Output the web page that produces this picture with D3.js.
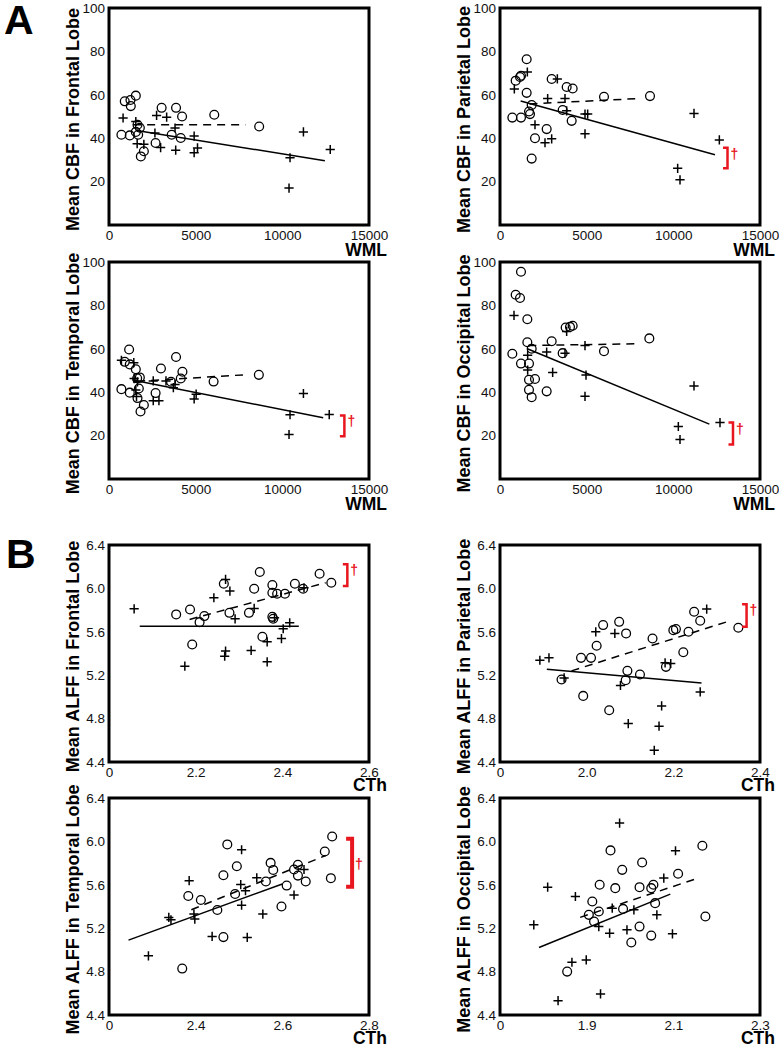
<!DOCTYPE html>
<html><head><meta charset="utf-8">
<script src="https://cdn.jsdelivr.net/npm/d3@7/dist/d3.min.js"></script>
<style>body{margin:0;background:#fff}svg{display:block}text{font-family:Arial,"Liberation Sans",sans-serif}</style>
</head><body>
<script>
// ---------- DATA ----------
const cbfXTicks = [0, 5000, 10000, 15000];
const cbfYTicks = [20, 40, 60, 80, 100];
const alffYTicks = [4.4, 4.8, 5.2, 5.6, 6.0, 6.4];

// Panel A1: Frontal CBF vs WML
const a1Circles = [[716,41.6],[909,57.0],[1238,57.6],[1257,54.8],[1547,59.6],[1199,41.3],[1644,46.2],[1779,44.8],[1547,42.9],[1683,41.6],[1837,31.6],[2011,34.0],[2688,37.8],[3036,54.0],[3616,41.6],[3868,54.0],[4139,40.1],[4216,50.0],[6073,50.8],[8664,45.4]];
const a1Plus = [[812,49.3],[1547,47.7],[1625,37.5],[2011,37.2],[2650,42.4],[2746,50.5],[2978,35.7],[3326,49.7],[3810,44.7],[3848,34.5],[4912,41.0],[4912,33.3],[5106,35.5],[10444,31.0],[10386,17.0],[11217,42.9],[12764,34.8]];
const a1FitPlus = [[1586,43.6],[12455,29.6]];
const a1FitCircles = [[1392,46.2],[7871,46.2]];

// Panel A2: Parietal CBF vs WML
const a2Circles = [[711,49.5],[904,66.5],[1154,68.2],[1211,68.8],[1211,49.5],[1538,76.4],[1538,60.9],[1673,52.3],[1731,51.1],[1827,55.3],[1827,30.6],[2019,40.0],[2692,44.2],[2981,67.3],[3615,53.0],[3846,63.6],[4192,62.9],[4135,48.0],[6000,59.1],[8654,59.4]];
const a2Plus = [[827,62.7],[1577,70.5],[2019,46.2],[2596,37.9],[2750,58.3],[2981,39.7],[3308,67.3],[3750,58.3],[3846,52.6],[4904,51.1],[5058,51.1],[4904,42.0],[10250,26.1],[10385,20.8],[11192,51.4],[12654,39.2]];
const a2FitPlus = [[1192,57.1],[12404,32.4]];
const a2FitCircles = [[1700,55.8],[7800,58.2]];

// Panel A3: Temporal CBF vs WML
const a3Circles = [[716,41.4],[909,54.0],[1160,59.7],[1199,52.8],[1199,39.8],[1547,50.6],[1625,46.4],[1779,46.8],[1721,41.7],[1644,37.3],[1818,31.1],[2011,34.1],[2688,39.6],[2997,50.9],[3578,44.8],[3868,56.2],[4139,46.3],[4236,49.4],[6034,44.9],[8645,48.0]];
const a3Plus = [[716,54.7],[1431,53.6],[1451,46.3],[1644,44.8],[1586,38.0],[1547,41.0],[2553,45.2],[2553,36.1],[2881,36.1],[3288,45.2],[3713,42.1],[3810,43.6],[4912,36.9],[5029,39.1],[10444,29.6],[10386,20.5],[11217,39.4],[12706,29.7]];
const a3FitPlus = [[1354,45.6],[12358,28.2]];
const a3FitCircles = [[1625,45.0],[7775,48.0]];

// Panel A4: Occipital CBF vs WML
const a4Circles = [[711,57.7],[904,84.9],[1154,83.4],[1211,95.5],[1211,53.2],[1577,73.6],[1577,63.0],[1673,53.2],[1673,45.7],[1673,41.1],[1827,60.0],[1827,37.7],[2019,46.1],[2692,40.4],[2981,63.5],[3615,58.0],[3788,69.8],[4038,70.1],[4192,70.6],[6000,58.9],[8615,64.8]];
const a4Plus = [[808,75.4],[1596,57.0],[1596,50.2],[2692,58.5],[3038,49.1],[3750,58.0],[3846,68.0],[4904,61.5],[4962,47.9],[4904,38.1],[10288,24.2],[10385,18.2],[11192,42.9],[12692,26.0]];
const a4FitPlus = [[1577,60.0],[12077,25.3]];
const a4FitCircles = [[1635,61.5],[7788,62.3]];

// Panel B1: Frontal ALFF vs CTh
const b1XTicks = [2.0, 2.2, 2.4, 2.6];
const b1XLabels = ["0", "2.2", "2.4", "2.6"];
const b1Circles = [[2.155,5.76],[2.187,5.806],[2.192,5.483],[2.209,5.689],[2.220,5.745],[2.265,6.043],[2.278,5.775],[2.335,5.997],[2.323,5.775],[2.348,6.151],[2.354,5.554],[2.377,6.031],[2.377,5.960],[2.377,5.738],[2.379,5.72],[2.388,5.951],[2.406,5.951],[2.429,6.043],[2.448,5.997],[2.486,6.135],[2.513,6.052]];
const b1Plus = [[2.058,5.812],[2.175,5.283],[2.242,5.914],[2.269,6.083],[2.279,5.975],[2.269,5.422],[2.267,5.375],[2.291,5.72],[2.328,5.428],[2.335,5.815],[2.365,5.508],[2.365,5.323],[2.382,5.729],[2.398,5.538],[2.402,5.628],[2.417,5.683],[2.45,6.006]];
const b1FitPlus = [[2.071,5.652],[2.438,5.652]];
const b1FitCircles = [[2.186,5.714],[2.5,6.052]];

// Panel B2: Parietal ALFF vs CTh
const b2XTicks = [1.8, 2.0, 2.2, 2.4];
const b2XLabels = ["0", "2.0", "2.2", "2.4"];
const b2Circles = [[1.942,5.16],[1.987,5.36],[1.992,5.009],[2.010,5.36],[2.023,5.471],[2.038,5.662],[2.075,5.692],[2.052,4.877],[2.091,5.585],[2.094,5.24],[2.09,5.154],[2.123,5.206],[2.152,5.538],[2.183,5.277],[2.2,5.615],[2.206,5.625],[2.223,5.412],[2.235,5.6],[2.248,5.785],[2.262,5.702],[2.35,5.637]];
const b2Plus = [[1.892,5.338],[1.913,5.36],[1.948,5.175],[2.021,5.6],[2.065,5.585],[2.078,5.105],[2.096,4.754],[2.173,4.917],[2.167,4.73],[2.156,4.508],[2.181,5.314],[2.194,5.308],[2.262,5.046],[2.277,5.809]];
const b2FitPlus = [[1.908,5.255],[2.265,5.129]];
const b2FitCircles = [[1.965,5.24],[2.33,5.70]];

// Panel B3: Temporal ALFF vs CTh
const b3XTicks = [2.2, 2.4, 2.6, 2.8];
const b3XLabels = ["0", "2.4", "2.6", "2.8"];
const b3Circles = [[2.369,4.828],[2.383,5.497],[2.412,5.46],[2.45,5.368],[2.464,5.688],[2.464,5.118],[2.473,5.972],[2.491,5.515],[2.495,5.771],[2.562,5.63],[2.573,5.802],[2.579,5.737],[2.598,5.4],[2.61,5.593],[2.627,5.741],[2.636,5.784],[2.636,5.685],[2.654,5.63],[2.698,5.907],[2.712,5.661],[2.715,6.045]];
const b3Plus = [[2.291,4.945],[2.338,5.299],[2.343,5.278],[2.385,5.638],[2.396,5.33],[2.398,5.284],[2.438,5.124],[2.506,5.923],[2.504,5.602],[2.506,5.412],[2.515,5.545],[2.519,5.115],[2.541,5.664],[2.555,5.33],[2.627,5.506],[2.65,5.741]];
const b3FitPlus = [[2.245,5.09],[2.6,5.608]];
const b3FitCircles = [[2.39,5.37],[2.70,5.87]];

// Panel B4: Occipital ALFF vs CTh
const b4XTicks = [1.7, 1.9, 2.1, 2.3];
const b4XLabels = ["0", "1.9", "2.1", "2.3"];
const b4Circles = [[1.855,4.8],[1.905,5.323],[1.913,5.446],[1.917,5.262],[1.928,5.354],[1.93,5.6],[1.955,5.917],[1.966,5.569],[1.982,5.738],[1.984,5.378],[2.003,5.068],[2.022,5.215],[2.022,5.578],[2.028,5.806],[2.049,5.132],[2.049,5.569],[2.054,5.6],[2.058,5.431],[2.111,5.702],[2.167,5.96],[2.174,5.308]];
const b4Plus = [[1.778,5.231],[1.81,5.578],[1.834,4.532],[1.866,4.886],[1.874,5.492],[1.899,4.908],[1.928,5.215],[1.932,4.594],[1.953,5.154],[1.959,5.385],[1.976,6.169],[1.993,5.185],[2.009,5.369],[2.062,5.323],[2.078,5.662],[2.098,5.148],[2.105,5.914]];
const b4FitPlus = [[1.79,5.022],[2.093,5.514]];
const b4FitCircles = [[1.885,5.3],[2.15,5.652]];

// Significance brackets [x, yTop, yBottom]
const a2Bracket = [13125, 35.6, 26.1];
const a3Bracket = [13580, 29.3, 19.7];
const a4Bracket = [13442, 26.0, 15.9];
const b1Bracket = [2.55, 6.222, 6.022];
const b2Bracket = [2.369, 5.855, 5.646];
const b3Bracket = [2.761, 6.024, 5.583];

// ---------- LAYOUT ----------
const W = 779, H = 1050;
const colX = [109, 500];
const rowY = [8, 262, 545, 798];
const PW = 260, PH = 217;
const RED = "#e8161e";

const svg = d3.select("body").append("svg").attr("width", W).attr("height", H);

svg.append("text").attr("x", 4).attr("y", 34).attr("font-size", 41).attr("font-weight", "bold").text("A");
svg.append("text").attr("x", 6).attr("y", 568).attr("font-size", 41).attr("font-weight", "bold").text("B");

const panels = [
  {col:0,row:0,xd:[0,15000],yd:[0,100],xt:cbfXTicks,xl:cbfXTicks.map(String),yt:cbfYTicks,yf:d=>String(d),ylab:"Mean CBF in Frontal Lobe",xlab:"WML",c:a1Circles,p:a1Plus,fp:a1FitPlus,fc:a1FitCircles,br:null},
  {col:1,row:0,xd:[0,15000],yd:[0,100],xt:cbfXTicks,xl:cbfXTicks.map(String),yt:cbfYTicks,yf:d=>String(d),ylab:"Mean CBF in Parietal Lobe",xlab:"WML",c:a2Circles,p:a2Plus,fp:a2FitPlus,fc:a2FitCircles,br:a2Bracket,bw:2.5,dag:"top"},
  {col:0,row:1,xd:[0,15000],yd:[0,100],xt:cbfXTicks,xl:cbfXTicks.map(String),yt:cbfYTicks,yf:d=>String(d),ylab:"Mean CBF in Temporal Lobe",xlab:"WML",c:a3Circles,p:a3Plus,fp:a3FitPlus,fc:a3FitCircles,br:a3Bracket,bw:2.5,dag:"top"},
  {col:1,row:1,xd:[0,15000],yd:[0,100],xt:cbfXTicks,xl:cbfXTicks.map(String),yt:cbfYTicks,yf:d=>String(d),ylab:"Mean CBF in Occipital Lobe",xlab:"WML",c:a4Circles,p:a4Plus,fp:a4FitPlus,fc:a4FitCircles,br:a4Bracket,bw:2.5,dag:"top"},
  {col:0,row:2,xd:[2.0,2.6],yd:[4.4,6.4],xt:b1XTicks,xl:b1XLabels,yt:alffYTicks,yf:d3.format(".1f"),ylab:"Mean ALFF in Frontal Lobe",xlab:"CTh",c:b1Circles,p:b1Plus,fp:b1FitPlus,fc:b1FitCircles,br:b1Bracket,bw:2.5,dag:"top"},
  {col:1,row:2,xd:[1.8,2.4],yd:[4.4,6.4],xt:b2XTicks,xl:b2XLabels,yt:alffYTicks,yf:d3.format(".1f"),ylab:"Mean ALFF in Parietal Lobe",xlab:"CTh",c:b2Circles,p:b2Plus,fp:b2FitPlus,fc:b2FitCircles,br:b2Bracket,bw:2.5,dag:"top"},
  {col:0,row:3,xd:[2.2,2.8],yd:[4.4,6.4],xt:b3XTicks,xl:b3XLabels,yt:alffYTicks,yf:d3.format(".1f"),ylab:"Mean ALFF in Temporal Lobe",xlab:"CTh",c:b3Circles,p:b3Plus,fp:b3FitPlus,fc:b3FitCircles,br:b3Bracket,bw:4,dag:"mid"},
  {col:1,row:3,xd:[1.7,2.3],yd:[4.4,6.4],xt:b4XTicks,xl:b4XLabels,yt:alffYTicks,yf:d3.format(".1f"),ylab:"Mean ALFF in Occipital Lobe",xlab:"CTh",c:b4Circles,p:b4Plus,fp:b4FitPlus,fc:b4FitCircles,br:null}
];

panels.forEach(P => {
  const x0 = colX[P.col], y0 = rowY[P.row];
  const g = svg.append("g").attr("transform", `translate(${x0},${y0})`);
  const x = d3.scaleLinear().domain(P.xd).range([0, PW]);
  const y = d3.scaleLinear().domain(P.yd).range([PH, 0]);

  // y axis tick labels
  const yAxis = d3.axisLeft(y).tickValues(P.yt).tickFormat(P.yf).tickSize(0).tickPadding(4);
  const ya = g.append("g").call(yAxis);
  ya.select(".domain").remove();
  ya.selectAll("text").attr("font-size", 13.5).attr("fill", "#111").style("font-family", "Arial, 'Liberation Sans', sans-serif");

  // x axis tick labels
  const labMap = new Map(P.xt.map((t, i) => [t, P.xl[i]]));
  const xAxis = d3.axisBottom(x).tickValues(P.xt).tickFormat(d => labMap.get(d)).tickSize(0).tickPadding(5);
  const xa = g.append("g").attr("transform", `translate(0,${PH})`).call(xAxis);
  xa.select(".domain").remove();
  xa.selectAll("text").attr("font-size", 13.5).attr("fill", "#111").style("font-family", "Arial, 'Liberation Sans', sans-serif");

  // frame
  g.append("rect").attr("x", 0).attr("y", 0).attr("width", PW).attr("height", PH)
    .attr("fill", "none").attr("stroke", "#000").attr("stroke-width", 3);

  // y label
  g.append("text").attr("transform", `translate(-30,${PH/2 + 3}) rotate(-90)`)
    .attr("text-anchor", "middle").attr("font-size", 18).attr("font-weight", "bold").text(P.ylab);

  // x label
  const xlRight = P.col === 0 ? PW + 18 : Math.min(PW + 16, W - x0 - 4);
  const xlY = P.row < 2 ? PH + 31 : PH + 29;
  g.append("text").attr("x", xlRight).attr("y", xlY).attr("text-anchor", "end")
    .attr("font-size", 17.5).attr("font-weight", "bold").text(P.xlab);

  // fit lines
  const line = d3.line().x(d => x(d[0])).y(d => y(d[1]));
  g.append("path").datum(P.fp).attr("d", line).attr("fill", "none").attr("stroke", "#000").attr("stroke-width", 1.5);
  g.append("path").datum(P.fc).attr("d", line).attr("fill", "none").attr("stroke", "#000").attr("stroke-width", 1.5).attr("stroke-dasharray", "8,6");

  // circles
  g.selectAll("circle.o").data(P.c).join("circle").attr("class", "o")
    .attr("cx", d => x(d[0])).attr("cy", d => y(d[1])).attr("r", 4.4)
    .attr("fill", "none").attr("stroke", "#000").attr("stroke-width", 1.3);

  // plus markers
  const s = 4.6;
  g.selectAll("path.p").data(P.p).join("path").attr("class", "p")
    .attr("d", d => { const cx = x(d[0]), cy = y(d[1]); return `M${cx - s},${cy}H${cx + s}M${cx},${cy - s}V${cy + s}`; })
    .attr("fill", "none").attr("stroke", "#000").attr("stroke-width", 1.5);

  // bracket
  if (P.br) {
    const bx = x(P.br[0]), bt = y(P.br[1]), bb = y(P.br[2]);
    const arm = P.bw > 3 ? 6 : 4.5;
    g.append("path").attr("d", `M${bx - arm},${bt}H${bx}V${bb}H${bx - arm}`)
      .attr("fill", "none").attr("stroke", RED).attr("stroke-width", P.bw);
    const dy = P.dag === "mid" ? (bt + bb) / 2 + 6 : bt + 11;
    g.append("text").attr("x", bx + 3).attr("y", dy).attr("fill", RED)
      .attr("font-size", 14).attr("font-weight", "bold").text("\u2020");
  }
});
</script>
</body></html>
